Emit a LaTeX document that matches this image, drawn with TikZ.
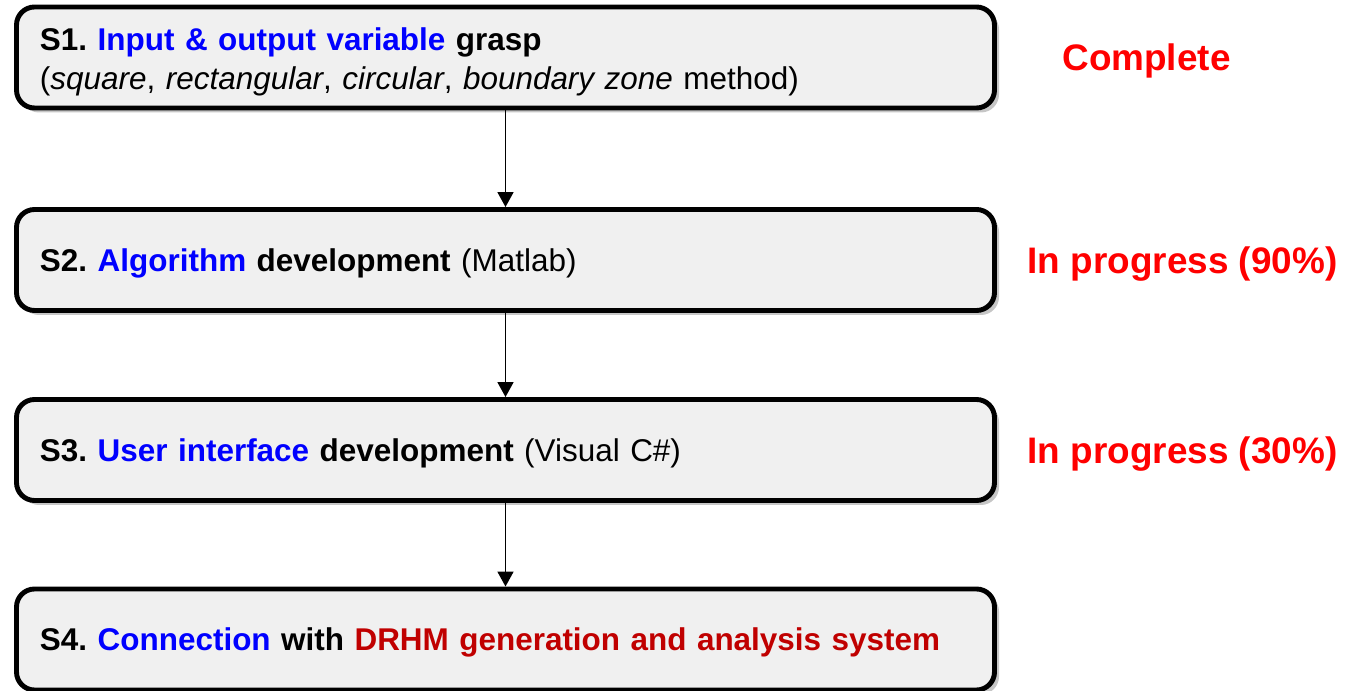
\documentclass[tikz,border=0pt]{standalone}
\usepackage{fontspec}
\setmainfont{Liberation Sans}
\usetikzlibrary{arrows.meta,shadows}
\definecolor{stepblue}{RGB}{0,0,255}
\definecolor{darkred}{RGB}{192,0,0}
\frenchspacing

\begin{document}
\begin{tikzpicture}[font=\fontsize{17.9}{21.8}\selectfont,
	stepbox/.style={draw=black, line width=2.8pt, rounded corners=0.36cm, fill=gray!12,
		drop shadow={shadow xshift=0.09cm, shadow yshift=-0.09cm, opacity=0.45},
		minimum height=2.02cm, text width=18.62cm, inner xsep=0.47cm, align=left, text depth=0pt},
	status/.style={text=red, font=\fontsize{21}{25}\selectfont\bfseries, text depth=0pt},
	flow/.style={line width=1pt, -{Triangle[length=0.3cm, width=0.32cm]}}]
	\useasboundingbox (0,0) rectangle (27.12,13.82);
	\node[stepbox, text depth=20.5pt] (s1) at (10.11,12.67) {\textbf{S1. \textcolor{stepblue}{Input \& output variable} grasp}\\
		(\textit{square}, \textit{rectangular}, \textit{circular}, \textit{boundary zone} method)};
	\node[stepbox] (s2) at (10.11,8.62) {\textbf{S2. \textcolor{stepblue}{Algorithm} development} (Matlab)};
	\node[stepbox] (s3) at (10.11,4.82) {\textbf{S3. \textcolor{stepblue}{User interface} development} (Visual C\#)};
	\node[stepbox] (s4) at (10.11,1.03) {\textbf{S4. \textcolor{stepblue}{Connection} with \textcolor{darkred}{DRHM generation and analysis system}}};
	\node[status] (c1) at (22.93,12.67) {Complete};
	\node[status] (c2) at (23.65,8.62) {In progress (90\%)};
	\node[status] (c3) at (23.65,4.82) {In progress (30\%)};
	\draw[flow] (s1.south) -- (s2.north);
	\draw[flow] (s2.south) -- (s3.north);
	\draw[flow] (s3.south) -- (s4.north);
\end{tikzpicture}
\end{document}
